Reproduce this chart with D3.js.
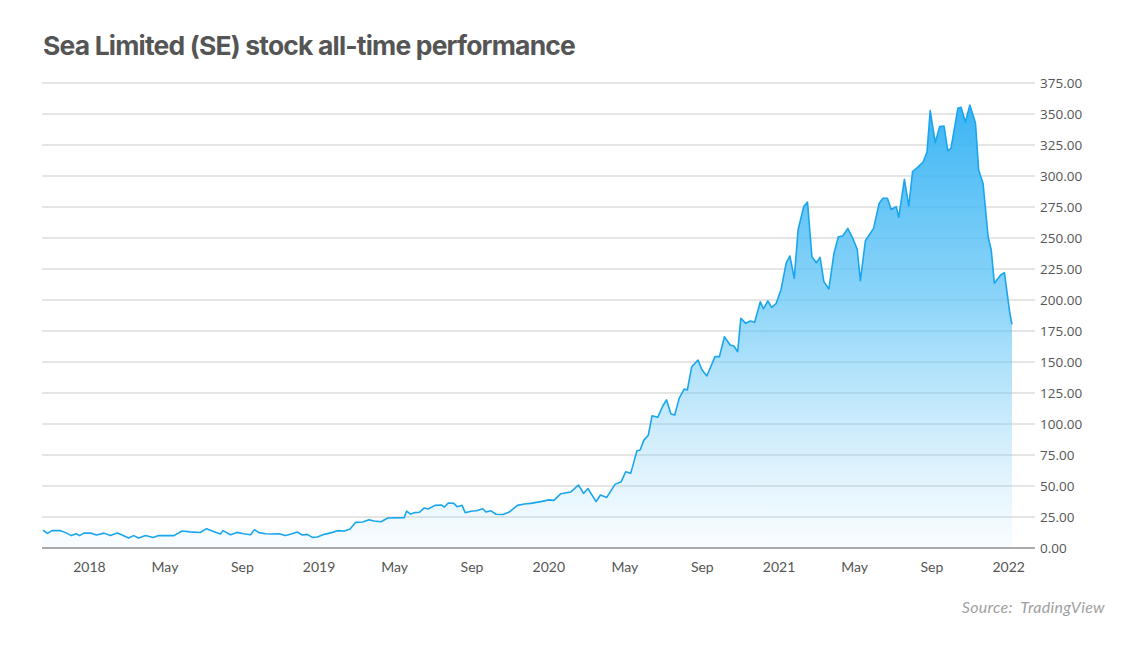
<!DOCTYPE html>
<html>
<head>
<meta charset="utf-8">
<script src="https://cdn.jsdelivr.net/npm/d3@7"></script>
<style>
  html, body { margin: 0; padding: 0; background: #ffffff; }
  svg { display: block; }
</style>
</head>
<body>
<svg id="chart" width="1140" height="650"></svg>
<script>
// ---- Data ----
const dates = [
  "2017-10-20","2017-10-27","2017-11-03","2017-11-17","2017-11-25","2017-12-04","2017-12-12","2017-12-17","2017-12-24",
  "2018-01-04","2018-01-13","2018-01-25","2018-02-04","2018-02-15","2018-02-23","2018-03-05","2018-03-13","2018-03-21",
  "2018-04-01","2018-04-13","2018-04-22","2018-05-16","2018-05-29","2018-06-11","2018-06-27","2018-07-07","2018-07-18",
  "2018-07-29","2018-08-02","2018-08-14","2018-08-24","2018-09-04","2018-09-15","2018-09-21","2018-09-28","2018-10-09",
  "2018-10-19","2018-10-30","2018-11-09","2018-11-20","2018-11-28","2018-12-06","2018-12-14","2018-12-22","2018-12-30",
  "2019-01-10","2019-01-23","2019-01-31","2019-02-11","2019-02-20","2019-03-01","2019-03-12","2019-03-22","2019-03-30",
  "2019-04-10","2019-04-21","2019-05-17","2019-05-21","2019-05-27","2019-06-02","2019-06-10","2019-06-18","2019-06-24",
  "2019-07-05","2019-07-15","2019-07-20","2019-07-26","2019-08-04","2019-08-09","2019-08-17","2019-08-22","2019-08-31",
  "2019-09-09","2019-09-19","2019-09-24","2019-10-02","2019-10-10","2019-10-21","2019-10-31","2019-11-13","2019-11-24",
  "2019-12-04","2019-12-20","2020-01-02","2020-01-10","2020-01-21","2020-02-06","2020-02-18","2020-02-26","2020-03-04",
  "2020-03-17","2020-03-24","2020-04-03","2020-04-16","2020-04-26","2020-05-03","2020-05-11","2020-05-21","2020-05-26",
  "2020-06-01","2020-06-08","2020-06-14","2020-06-23","2020-07-01","2020-07-07","2020-07-14","2020-07-20","2020-07-27",
  "2020-08-04","2020-08-09","2020-08-16","2020-08-26","2020-09-01","2020-09-09","2020-09-22","2020-09-29","2020-10-07",
  "2020-10-16","2020-10-22","2020-10-28","2020-11-02","2020-11-10","2020-11-17","2020-11-24","2020-12-03","2020-12-08",
  "2020-12-15","2020-12-21","2020-12-28","2021-01-05","2021-01-13","2021-01-19","2021-01-26","2021-02-01","2021-02-10",
  "2021-02-16","2021-02-23","2021-03-02","2021-03-08","2021-03-14","2021-03-22","2021-03-30","2021-04-06","2021-04-13",
  "2021-04-21","2021-04-29","2021-05-06","2021-05-11","2021-05-19","2021-06-01","2021-06-10","2021-06-16","2021-06-23",
  "2021-06-29","2021-07-07","2021-07-11","2021-07-20","2021-07-27","2021-08-02","2021-08-10","2021-08-19","2021-08-25",
  "2021-08-30","2021-09-07","2021-09-14","2021-09-21","2021-09-27","2021-10-02","2021-10-13","2021-10-18","2021-10-25",
  "2021-11-01","2021-11-10","2021-11-15","2021-11-22","2021-11-30","2021-12-05","2021-12-10","2021-12-20","2021-12-26",
  "2021-12-31","2022-01-04","2022-01-07"
];
const prices = [
  14.5,11.8,14.0,14.0,12.4,10.0,11.5,10.0,12.0,
  12.0,10.5,12.0,10.0,12.0,10.5,8.0,10.0,8.0,
  10.0,8.4,10.0,10.0,13.7,13.0,12.5,15.6,13.4,
  11.3,14.0,10.7,12.6,11.5,10.7,14.8,12.4,11.5,
  11.3,11.5,10.0,11.5,12.9,10.5,11.0,8.6,8.9,
  11.0,12.6,14.0,13.7,15.3,20.7,21.0,22.8,21.8,
  21.2,24.2,24.5,29.8,27.4,28.5,28.8,32.3,31.5,
  34.4,34.7,33.0,36.3,36.0,33.3,34.4,28.5,29.6,
  30.0,31.7,29.0,30.0,27.2,27.0,29.0,34.4,35.5,
  36.0,37.4,38.8,38.4,43.8,45.2,50.8,44.0,48.0,
  37.4,42.7,40.8,51.3,53.5,61.5,60.2,78.5,79.0,
  87.0,91.0,106.7,105.4,114.5,119.4,108.0,107.3,120.7,
  128.2,127.4,146.2,151.6,144.0,138.7,154.3,154.3,170.4,
  163.7,162.9,158.3,185.2,181.2,183.0,182.0,198.6,193.0,
  199.3,194.0,197.0,208.5,229.6,235.5,217.5,256.5,275.3,
  279.0,235.0,230.0,234.4,214.8,208.9,237.6,251.0,251.6,
  257.8,249.7,240.9,215.6,247.8,257.8,278.0,282.0,282.0,
  273.0,275.3,266.7,297.3,275.8,303.5,307.0,311.5,319.6,
  352.7,326.9,339.8,340.3,320.4,322.3,354.6,355.4,343.3,
  357.3,342.5,304.8,294.0,251.0,240.3,213.5,220.2,222.0,
  202.7,187.9,180.4
];
const yTicks = [0,25,50,75,100,125,150,175,200,225,250,275,300,325,350,375];
const xTickDates = ["2018-01-01","2018-05-01","2018-09-01","2019-01-01","2019-05-01","2019-09-01",
                    "2020-01-01","2020-05-01","2020-09-01","2021-01-01","2021-05-01","2021-09-01","2022-01-01"];
const xTickLabels = ["2018","May","Sep","2019","May","Sep","2020","May","Sep","2021","May","Sep","2022"];
const titleText = "Sea Limited (SE) stock all-time performance";
const sourceText = "Source:  TradingView";

// ---- Drawing ----
const parse = d3.utcParse("%Y-%m-%d");
const data = dates.map((d, i) => ({ date: parse(d), value: prices[i] }));

const svg = d3.select("#chart");
const plotLeft = 43, plotRight = 1012, gridRight = 1035, plotTop = 83, plotBottom = 548;

const x = d3.scaleUtc()
  .domain(d3.extent(data, d => d.date))
  .range([plotLeft, plotRight]);
const y = d3.scaleLinear().domain([0, 375]).range([plotBottom, plotTop]);

const defs = svg.append("defs");
const grad = defs.append("linearGradient")
  .attr("id", "areaGrad")
  .attr("gradientUnits", "userSpaceOnUse")
  .attr("x1", 0).attr("x2", 0)
  .attr("y1", y(360)).attr("y2", y(0));
grad.append("stop").attr("offset", "0%").attr("stop-color", "#2fb0f4").attr("stop-opacity", 0.95);
grad.append("stop").attr("offset", "45%").attr("stop-color", "#5cc3f6").attr("stop-opacity", 0.7);
grad.append("stop").attr("offset", "100%").attr("stop-color", "#8fd4f8").attr("stop-opacity", 0.05);

// Title
svg.append("text")
  .attr("x", 43).attr("y", 55)
  .attr("font-family", "Inter, 'Open Sans', sans-serif")
  .attr("font-weight", 700)
  .attr("font-size", 26)
  .attr("letter-spacing", "-0.8")
  .attr("fill", "#555555")
  .attr("textLength", 532)
  .attr("lengthAdjust", "spacingAndGlyphs")
  .text(titleText);

// Gridlines
svg.append("g").selectAll("line")
  .data(yTicks.filter(t => t > 0))
  .join("line")
  .attr("x1", 42).attr("x2", gridRight)
  .attr("y1", d => y(d)).attr("y2", d => y(d))
  .attr("stroke", "#dcdcdc").attr("stroke-width", 1.5);

// Area
const area = d3.area()
  .x(d => x(d.date))
  .y0(y(0))
  .y1(d => y(d.value));
svg.append("path").datum(data)
  .attr("d", area)
  .attr("fill", "url(#areaGrad)");

// Line
const line = d3.line().x(d => x(d.date)).y(d => y(d.value));
svg.append("path").datum(data)
  .attr("d", line)
  .attr("fill", "none")
  .attr("stroke", "#1aa6ee")
  .attr("stroke-width", 1.6)
  .attr("stroke-linejoin", "round");

// Baseline
svg.append("line")
  .attr("x1", 42).attr("x2", gridRight)
  .attr("y1", y(0)).attr("y2", y(0))
  .attr("stroke", "#aaaaaa").attr("stroke-width", 2);

// Y axis labels (right)
const yAxis = d3.axisRight(y)
  .tickValues(yTicks)
  .tickFormat(d3.format(".2f"))
  .tickSize(0)
  .tickPadding(0);
const gy = svg.append("g").attr("transform", `translate(1040,0)`).call(yAxis);
gy.select(".domain").remove();
gy.selectAll("text")
  .attr("font-family", "'Open Sans', sans-serif")
  .attr("font-size", 13.5)
  .attr("fill", "#555555");

// X axis labels
const xAxis = d3.axisBottom(x)
  .tickValues(xTickDates.map(parse))
  .tickFormat((d, i) => xTickLabels[i])
  .tickSize(0)
  .tickPadding(0);
const gx = svg.append("g").attr("transform", `translate(0,562)`).call(xAxis);
gx.select(".domain").remove();
gx.selectAll("text")
  .attr("font-family", "Lato, 'Open Sans', sans-serif")
  .attr("font-size", 14)
  .attr("fill", "#555555");

// Source
svg.append("text")
  .attr("x", 1105).attr("y", 613)
  .attr("text-anchor", "end")
  .attr("font-family", "Lato, 'Open Sans', sans-serif")
  .attr("font-style", "italic")
  .attr("font-size", 16)
  .attr("letter-spacing", "0.3")
  .attr("fill", "#a0a0a0")
  .attr("xml:space", "preserve")
  .style("white-space", "pre")
  .text(sourceText);
</script>
</body>
</html>
